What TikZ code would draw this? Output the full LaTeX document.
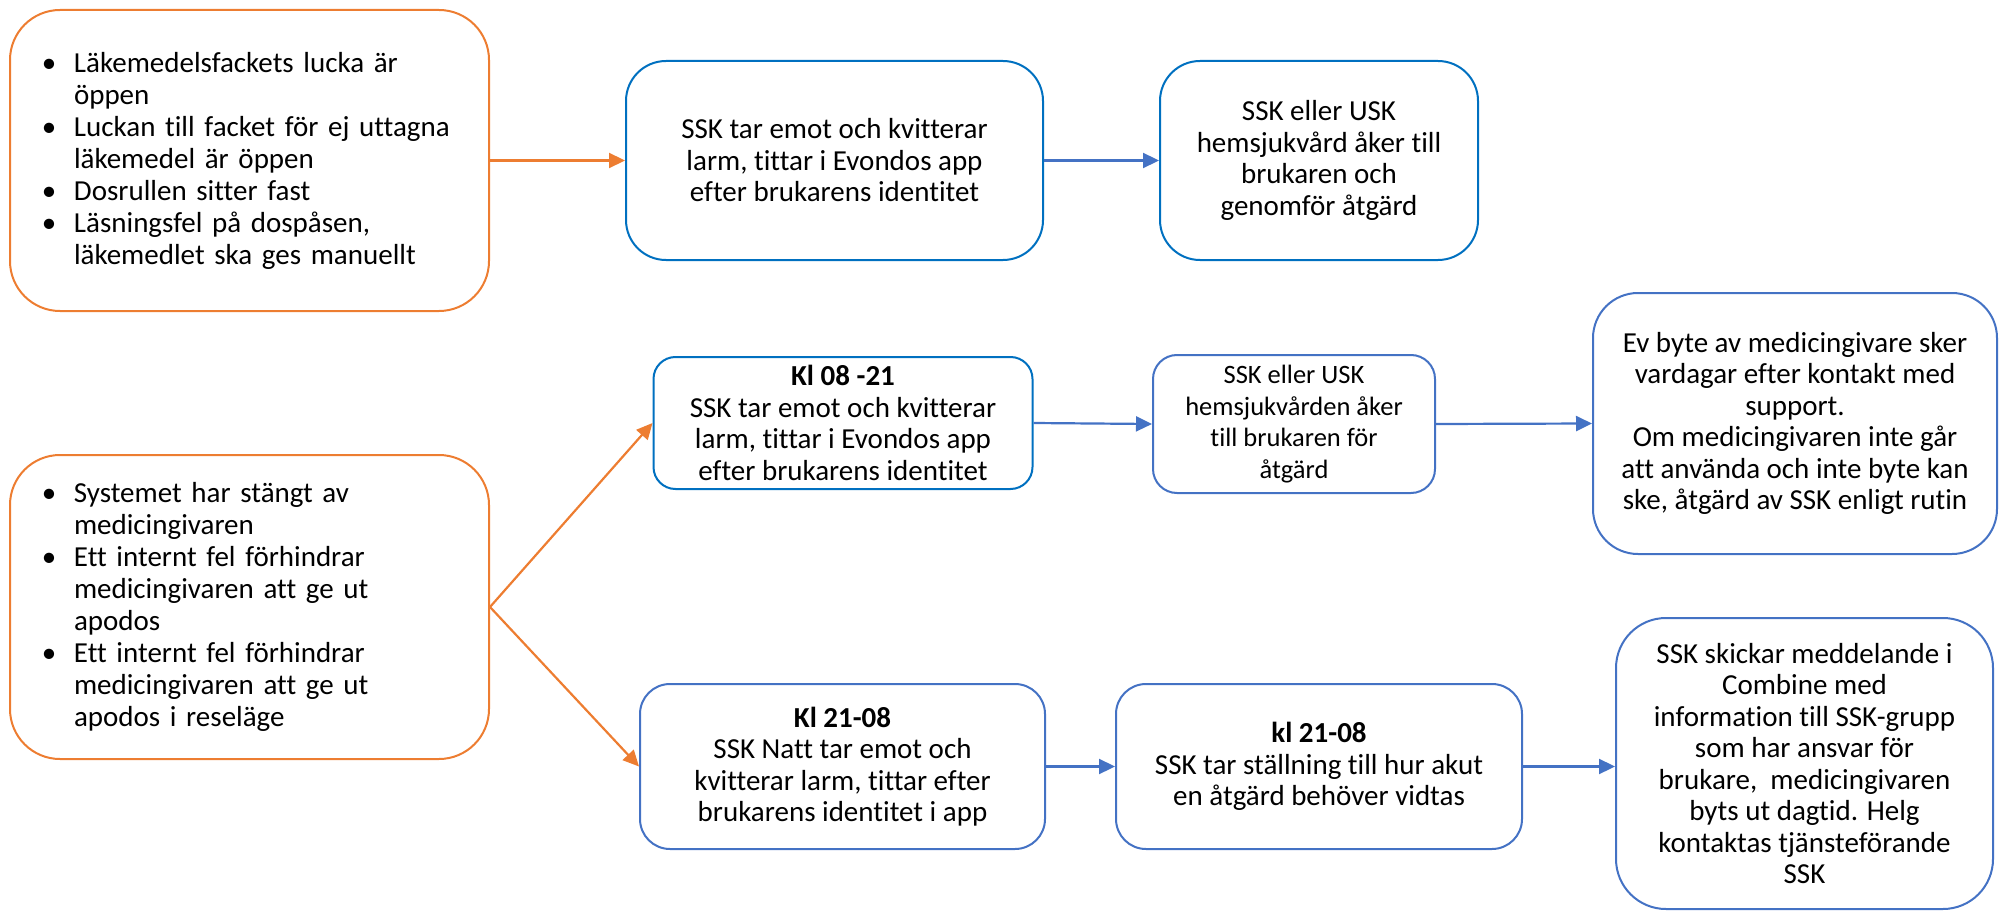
\documentclass[tikz,border=0pt]{standalone}
\usepackage{fontspec}
\setmainfont{Carlito}[Ligatures=NoCommon]
\usetikzlibrary{arrows.meta}
\definecolor{orng}{HTML}{ED7D31}
\definecolor{dblue}{HTML}{0070C0}
\definecolor{mblue}{HTML}{4472C4}
\newcommand{\bul}{\makebox[29pt][l]{\hspace*{-3pt}\textbullet}}
\newcommand{\ind}{\hspace*{29pt}}
\begin{document}
\begin{tikzpicture}[x=1pt,y=-1pt,
  box/.style={draw, line width=2pt, align=center, inner sep=0pt, font=\fontsize{29}{31.5}\selectfont},
  obox/.style={box, draw=orng, rounded corners=50pt, text width=409pt, inner xsep=35pt, align=left, minimum height=301pt, font=\fontsize{29}{32}\selectfont},
  dbox/.style={box, draw=dblue},
  bbox/.style={box, draw=mblue},
  oarr/.style={draw=orng, line width=2.2pt, -{Triangle[length=16pt,width=15pt]}, fill=orng},
  barr/.style={draw=mblue, line width=2.2pt, -{Triangle[length=16pt,width=15pt]}, fill=mblue}
]
\useasboundingbox (0,0) rectangle (2000,912);

\node[obox] (A) at (249.5,160.5) {\bul Läkemedelsfackets lucka är\\ \ind öppen\\ \bul Luckan till facket för ej uttagna\\ \ind läkemedel är öppen\\ \bul Dosrullen sitter fast\\ \bul Läsningsfel på dospåsen,\\ \ind läkemedlet ska ges manuellt};

\node[dbox, rounded corners=40pt, minimum width=417pt, minimum height=199pt] (B) at (834.5,160.5) {SSK tar emot och kvitterar\\ larm, tittar i Evondos app\\ efter brukarens identitet};

\node[dbox, rounded corners=40pt, minimum width=318pt, minimum height=199pt] (C) at (1319,160.5) {SSK eller USK\\ hemsjukvård åker till\\ brukaren och\\ genomför åtgärd};

\node[obox, minimum height=304pt] (D) at (249.5,607) {\bul Systemet har stängt av\\ \ind medicingivaren\\ \bul Ett internt fel förhindrar\\ \ind medicingivaren att ge ut\\ \ind apodos\\ \bul Ett internt fel förhindrar\\ \ind medicingivaren att ge ut\\ \ind apodos i reseläge};

\node[dbox, rounded corners=22pt, minimum width=379pt, minimum height=132pt] (E) at (843,423) {\textbf{Kl 08 -21}\\ SSK tar emot och kvitterar\\ larm, tittar i Evondos app\\ efter brukarens identitet};

\node[bbox, rounded corners=24pt, minimum width=282pt, minimum height=138pt, font=\fontsize{26.5}{31.5}\selectfont] (F) at (1294,424) {SSK eller USK\\ hemsjukvården åker\\ till brukaren för\\ åtgärd};

\node[bbox, rounded corners=45pt, minimum width=404pt, minimum height=261pt] (G) at (1795,423.5) {Ev byte av medicingivare sker\\ vardagar efter kontakt med\\ support.\\ Om medicingivaren inte går\\ att använda och inte byte kan\\ ske, åtgärd av SSK enligt rutin};

\node[bbox, rounded corners=30pt, minimum width=405pt, minimum height=165pt] (H) at (842.5,766.5) {\textbf{Kl 21-08}\\ SSK Natt tar emot och\\ kvitterar larm, tittar efter\\ brukarens identitet i app};

\node[bbox, rounded corners=30pt, minimum width=406pt, minimum height=165pt] (I) at (1319,766.5) {\textbf{kl 21-08}\\ SSK tar ställning till hur akut\\ en åtgärd behöver vidtas};

\node[bbox, rounded corners=50pt, minimum width=377pt, minimum height=291pt] (J) at (1804.5,763.5) {SSK skickar meddelande i\\ Combine med\\ information till SSK-grupp\\ som har ansvar för\\ brukare,\ \ medicingivaren\\ byts ut dagtid. Helg\\ kontaktas tjänsteförande\\ SSK};

\draw[oarr] (A.east) -- (B.west);
\draw[barr] (B.east) -- (C.west);
\draw[oarr] (D.east) -- (E.west);
\draw[oarr] (D.east) -- (H.west);
\draw[barr] (E.east) -- (F.west);
\draw[barr] (F.east) -- (G.west);
\draw[barr] (H.east) -- (I.west);
\draw[barr] (I.east) -- (I.east -| J.west);
\end{tikzpicture}
\end{document}
